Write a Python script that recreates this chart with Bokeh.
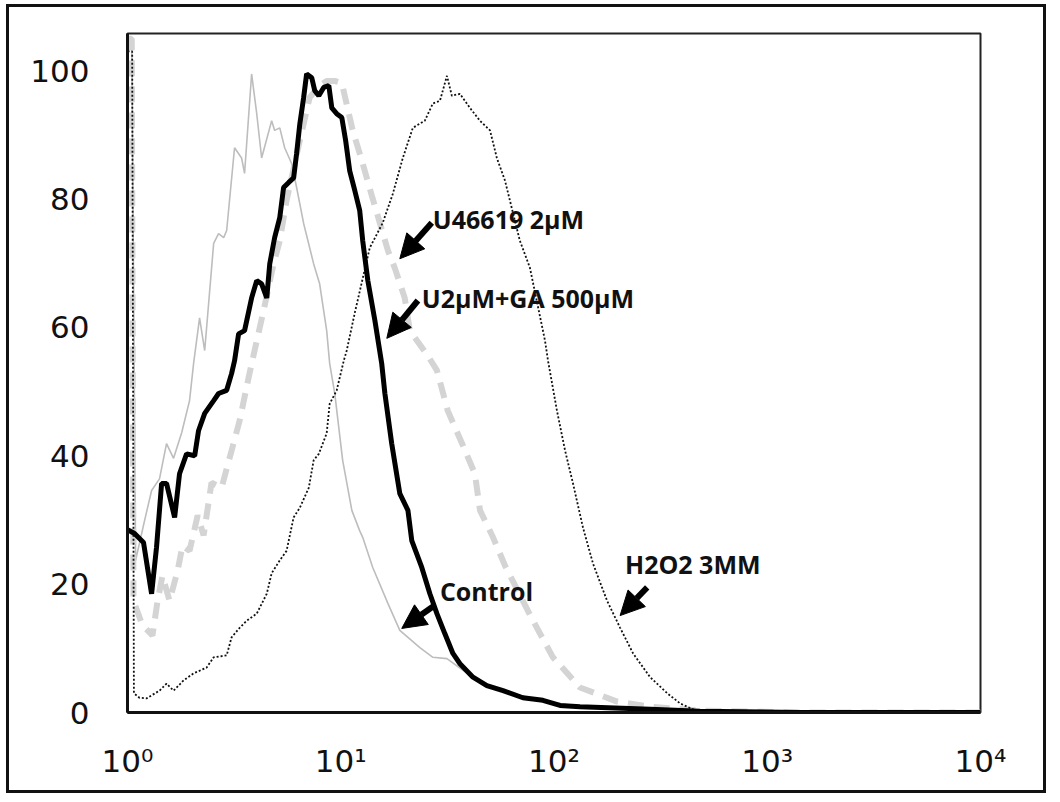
import numpy as np
from bokeh.plotting import figure
from bokeh.models import Range1d, FixedTicker, Arrow, NormalHead, Label
from bokeh.embed import file_html
from bokeh.resources import INLINE

# ---- data: x given as log10(fluorescence) (decades), y as % of max ----
control_decade = [0.0, 0.02, 0.038, 0.080, 0.113, 0.150, 0.183, 0.216, 0.254, 0.291, 0.310, 0.338, 0.362,
                  0.404, 0.427, 0.451, 0.465, 0.502, 0.535, 0.549, 0.582, 0.606, 0.629, 0.676, 0.690, 0.714,
                  0.737, 0.770, 0.793, 0.826, 0.873, 0.901, 0.934, 0.948, 0.972, 1.009, 1.052, 1.089, 1.103,
                  1.150, 1.221, 1.277, 1.371, 1.432, 1.498, 1.606, 1.746, 1.934, 2.122, 2.451, 3.155, 4.0]
control_pct = [105, 105, 23.7, 29.9, 34.6, 36.4, 41.9, 39.6, 43.6, 48.6, 54.4, 61.5, 56.4,
               73.1, 74.6, 74.0, 75.1, 88.0, 86.4, 84.0, 99.5, 93.3, 86.4, 92.2, 90.7, 91.1,
               88.0, 85.5, 81.8, 76.2, 69.9, 66.8, 59.5, 54.4, 49.7, 39.3, 31.5, 28.3, 27.3,
               22.6, 17.0, 12.8, 10.1, 8.6, 8.4, 5.8, 3.4, 1.9, 0.9, 0.3, 0, 0]

u466_decade = [0.0, 0.02, 0.028, 0.070, 0.117, 0.141, 0.164, 0.197, 0.235, 0.258, 0.291, 0.329, 0.357,
               0.394, 0.441, 0.488, 0.526, 0.568, 0.606, 0.638, 0.685, 0.714, 0.746, 0.808, 0.854, 0.901,
               0.934, 0.972, 1.005, 1.056, 1.099, 1.146, 1.221, 1.254, 1.300, 1.324, 1.408, 1.451, 1.502,
               1.573, 1.629, 1.653, 1.714, 1.770, 1.897, 1.995, 2.122, 2.296, 2.451, 2.685, 3.155, 4.0]
u466_pct = [105, 105, 17.4, 13.6, 12.0, 17.4, 21.3, 17.4, 22.1, 26.0, 25.2, 30.7, 27.6,
            35.8, 35.0, 40.8, 45.5, 52.2, 57.9, 62.6, 69.9, 73.5, 79.8, 89.1, 95.8, 97.7,
            98.4, 98.4, 98.1, 90.7, 86.0, 80.5, 72.0, 69.2, 64.6, 59.5, 55.6, 53.3, 47.0,
            41.6, 37.2, 31.5, 27.3, 22.9, 14.6, 8.6, 3.9, 1.7, 0.9, 0.3, 0, 0]

ga_decade = [0.0, 0.033, 0.075, 0.113, 0.136, 0.160, 0.183, 0.221, 0.244, 0.277, 0.315, 0.333, 0.362,
             0.404, 0.427, 0.465, 0.488, 0.502, 0.521, 0.549, 0.582, 0.606, 0.629, 0.653, 0.667, 0.690,
             0.714, 0.732, 0.756, 0.779, 0.793, 0.808, 0.826, 0.840, 0.864, 0.878, 0.897, 0.920, 0.944,
             0.958, 0.981, 1.005, 1.023, 1.042, 1.066, 1.089, 1.103, 1.127, 1.160, 1.192, 1.207, 1.239,
             1.277, 1.315, 1.333, 1.380, 1.418, 1.451, 1.488, 1.526, 1.559, 1.620, 1.685, 1.761, 1.854,
             1.948, 2.028, 2.122, 2.451, 2.685, 3.155, 4.0]
ga_pct = [28.5, 27.9, 26.5, 18.5, 25.7, 35.7, 35.7, 30.4, 37.2, 40.3, 40.0, 43.9, 46.6,
          48.6, 49.7, 50.2, 52.8, 54.8, 59.0, 59.5, 64.6, 67.3, 66.8, 64.6, 69.9, 74.0,
          77.1, 81.8, 82.6, 83.3, 87.1, 91.7, 95.8, 99.5, 98.9, 96.9, 96.1, 97.4, 97.7,
          94.2, 93.3, 92.7, 89.1, 84.4, 81.3, 78.2, 73.5, 67.3, 61.1, 54.4, 49.7, 41.9,
          34.1, 31.5, 26.8, 22.6, 18.5, 15.4, 12.3, 9.2, 7.6, 5.5, 4.2, 3.4, 2.3,
          1.9, 1.1, 0.9, 0.5, 0.2, 0, 0]

h2o2_decade = [0.0, 0.022, 0.03, 0.056, 0.089, 0.150, 0.183, 0.216, 0.263, 0.310, 0.371, 0.404, 0.465,
               0.488, 0.526, 0.559, 0.606, 0.653, 0.676, 0.714, 0.746, 0.779, 0.808, 0.850, 0.873, 0.897,
               0.934, 0.948, 0.981, 1.014, 1.028, 1.066, 1.136, 1.197, 1.244, 1.291, 1.338, 1.394, 1.432,
               1.465, 1.498, 1.521, 1.559, 1.606, 1.653, 1.700, 1.732, 1.770, 1.840, 1.887, 1.958, 1.972,
               2.014, 2.052, 2.089, 2.136, 2.183, 2.249, 2.310, 2.371, 2.451, 2.531, 2.592, 2.671, 3.155, 4.0]
h2o2_pct = [103, 103, 3.0, 2.3, 2.2, 3.4, 4.5, 3.4, 5.0, 6.1, 7.0, 8.6, 8.9,
            11.7, 13.2, 14.3, 15.4, 18.5, 21.7, 23.7, 25.2, 30.4, 31.9, 35.0, 39.3, 40.3,
            43.5, 48.1, 50.2, 54.8, 56.4, 62.3, 72.4, 76.3, 80.8, 86.4, 91.1, 92.2, 94.9,
            95.3, 99.2, 96.1, 96.4, 94.2, 92.2, 90.7, 86.4, 82.9, 73.5, 69.3, 57.9, 54.8,
            47.0, 40.8, 35.7, 28.8, 23.2, 17.4, 13.2, 9.2, 5.5, 3.0, 1.4, 0.2, 0, 0]

x_ticks = [1, 10, 100, 1000, 10000]
x_tick_labels = ["10\u2070", "10\u00b9", "10\u00b2", "10\u00b3", "10\u2074"]
y_ticks = [0, 20, 40, 60, 80, 100]

# annotations: text, label left (decade), label y, arrow tail (decade, y), arrow tip (decade, y)
ann_text = ["U46619 2\u00b5M", "U2\u00b5M+GA 500\u00b5M", "Control", "H2O2 3MM"]
ann_x = [1.432, 1.380, 1.465, 2.333]
ann_y = [76.9, 64.6, 19.0, 23.2]
arr_x0 = [1.427, 1.362, 1.441, 2.437]
arr_y0 = [76.3, 64.2, 16.7, 19.5]
arr_x1 = [1.277, 1.216, 1.286, 2.310]
arr_y1 = [70.7, 58.3, 13.1, 15.1]


def fl(dec):
    return np.power(10.0, np.asarray(dec, dtype=float))


p = figure(width=1040, height=789, x_axis_type="log",
           x_range=Range1d(1, 10000), y_range=Range1d(0, 105.8),
           output_backend="svg", toolbar_location=None,
           min_border_left=118, min_border_right=69, min_border_top=26, min_border_bottom=84,
           styles={"border": "3px solid #111", "margin-left": "6px", "margin-top": "4px"})
p.grid.visible = False
p.background_fill_color = "white"
p.border_fill_color = "white"
p.outline_line_color = "#222"
p.outline_line_width = 2

for ax in (p.xaxis, p.yaxis):
    ax.major_tick_line_color = None
    ax.minor_tick_line_color = None
    ax.major_tick_out = 0
    ax.minor_tick_out = 0
    ax.axis_line_width = 3
    ax.axis_line_color = "#111"
    ax.major_label_text_font = "DejaVu Sans"
    ax.major_label_text_font_size = "31px"
    ax.major_label_text_color = "#111"

p.xaxis.ticker = FixedTicker(ticks=x_ticks)
p.xaxis.major_label_overrides = {t: l for t, l in zip(x_ticks, x_tick_labels)}
p.xaxis.major_label_standoff = 30
p.yaxis.ticker = FixedTicker(ticks=y_ticks)
p.yaxis.major_label_standoff = 38

p.line(fl(control_decade), control_pct, line_color="#bdbdbd", line_width=1.6)
p.line(fl(u466_decade), u466_pct, line_color="#d4d4d4", line_width=6, line_dash="16 10")
p.line(fl(h2o2_decade), h2o2_pct, line_color="#111111", line_width=1.8, line_dash="2 2")
p.line(fl(ga_decade), ga_pct, line_color="black", line_width=5)

for t, lx, ly in zip(ann_text, ann_x, ann_y):
    p.add_layout(Label(x=10 ** lx, y=ly, text=t, text_font="Open Sans", text_font_style="bold",
                       text_font_size="25px", text_baseline="middle", text_align="left",
                       text_color="#111"))

for x0, y0, x1, y1 in zip(arr_x0, arr_y0, arr_x1, arr_y1):
    p.add_layout(Arrow(end=NormalHead(size=24, fill_color="black", line_color="black", line_width=1),
                       x_start=10 ** x0, y_start=y0, x_end=10 ** x1, y_end=y1,
                       line_width=6, line_color="black"))

open("out.html", "w").write(file_html(p, INLINE))
